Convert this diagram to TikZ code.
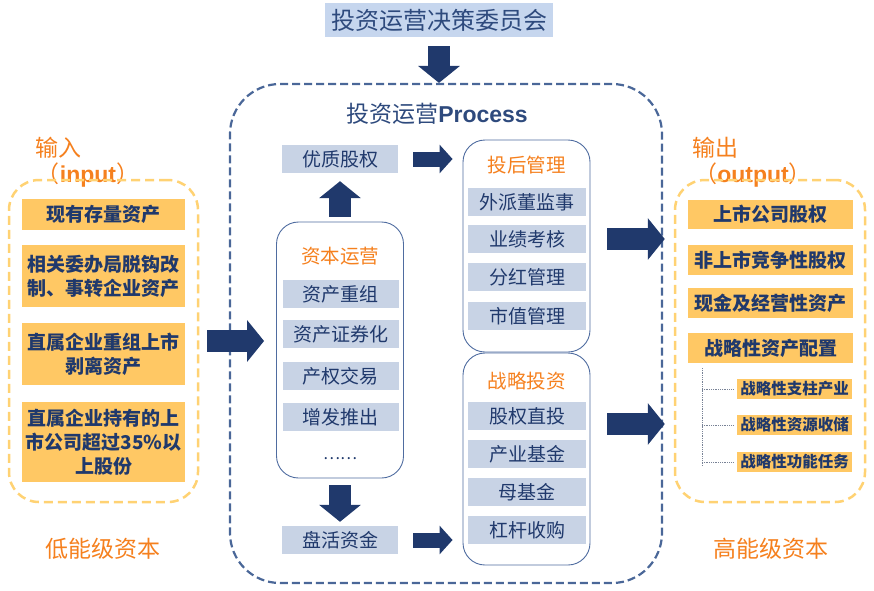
\documentclass[tikz,border=0pt]{standalone}
\usepackage{fontspec}
\setmainfont{Noto Sans CJK SC}
\newfontfamily\latn{Liberation Sans}
\usetikzlibrary{arrows.meta,positioning}

\definecolor{navy}{RGB}{32,57,108}
\definecolor{headtext}{RGB}{46,74,125}
\definecolor{procline}{RGB}{74,103,152}
\definecolor{grpline}{RGB}{79,108,160}
\definecolor{itemblue}{RGB}{200,211,229}
\definecolor{titleblue}{RGB}{198,214,238}
\definecolor{orangetext}{RGB}{245,128,30}
\definecolor{itemorange}{RGB}{255,200,100}
\definecolor{sideline}{RGB}{255,210,115}
\definecolor{treegray}{RGB}{120,130,150}

\tikzset{
  bluebox/.style={fill=itemblue, text=navy, minimum width=116pt, minimum height=28pt, inner sep=0pt, font=\fontsize{19}{21}\selectfont},
  orangebox/.style={fill=itemorange, text=navy, minimum width=163pt, inner sep=0pt, align=center, font=\bfseries\fontsize{19}{24}\selectfont},
  subbox/.style={fill=itemorange, text=navy, minimum width=115pt, minimum height=20pt, inner sep=0pt, font=\bfseries\fontsize{15.5}{17}\selectfont},
  group/.style={draw=grpline, line width=0.9pt, rounded corners=22pt, minimum width=127pt},
  grouptitle/.style={text=orangetext, font=\fontsize{19.5}{21}\selectfont},
  sidebox/.style={draw=sideline, line width=2.5pt, dash pattern=on 9pt off 5pt, rounded corners=30pt, minimum width=189pt, minimum height=322pt},
  sidelabel/.style={text=orangetext, font=\fontsize{23}{25}\selectfont},
  bigarrow/.style={draw=navy, line width=22pt, -{Triangle[length=17pt,width=41pt]}},
  smallarrow/.style={draw=navy, line width=15pt, -{Triangle[length=13pt,width=28pt]}},
  branch/.style={draw=treegray, line width=0.8pt, densely dotted}
}

\begin{document}
\begin{tikzpicture}[x=1pt,y=-1pt]
  \useasboundingbox (0,0) rectangle (874,590);

  % Committee on top
  \node[fill=titleblue, text=headtext, minimum width=228pt, minimum height=34pt, font=\fontsize{24}{26}\selectfont] (board) at (439,20) {投资运营决策委员会};

  % Process frame
  \node[draw=procline, line width=2.2pt, dash pattern=on 8pt off 4pt, rounded corners=50pt, minimum width=432pt, minimum height=499pt] (proc) at (446,333.5) {};
  \node[text=headtext, font=\fontsize{23}{25}\selectfont] (proctitle) at (437,114) {投资运营{\latn\bfseries Process}};

  % Capital operation column
  \node[bluebox] (youzhi) at (340,159) {优质股权};
  \node[group, minimum height=256pt] (capop) at (340,350) {};
  \node[grouptitle] (capoptitle) at (340,256) {资本运营};
  \node[bluebox] (cap1) at (340.5,294) {资产重组};
  \node[bluebox] (cap2) at (340.5,334) {资产证券化};
  \node[bluebox] (cap3) at (340.5,376) {产权交易};
  \node[bluebox] (cap4) at (340.5,417) {增发推出};
  \node[text=navy, font=\fontsize{16}{18}\selectfont] (cap5) at (340,459) {……};
  \node[bluebox] (panhuo) at (340,540) {盘活资金};

  % Post-investment management
  \node[group, minimum height=212pt] (tougu) at (526.5,246) {};
  \node[grouptitle] (tougutitle) at (526.5,165) {投后管理};
  \node[bluebox, minimum width=118pt] (tg1) at (527,202) {外派董监事};
  \node[bluebox, minimum width=118pt] (tg2) at (527,239) {业绩考核};
  \node[bluebox, minimum width=118pt] (tg3) at (527,277) {分红管理};
  \node[bluebox, minimum width=118pt] (tg4) at (527,316) {市值管理};

  % Strategic investment
  \node[group, minimum height=212pt] (zhanlue) at (526.5,459) {};
  \node[grouptitle] (zhanluetitle) at (526.5,381) {战略投资};
  \node[bluebox, minimum width=118pt] (zl1) at (527,416) {股权直投};
  \node[bluebox, minimum width=118pt] (zl2) at (527,454) {产业基金};
  \node[bluebox, minimum width=118pt] (zl3) at (527,492) {母基金};
  \node[bluebox, minimum width=118pt] (zl4) at (527,530) {杠杆收购};

  % Input side
  \node[sidelabel] (inlabel) at (58,148) {输入};
  \node[sidelabel] (inlabel2) at (88,175) {（{\latn\bfseries input}）};
  \node[sidebox] (input) at (103.5,341) {};
  \node[orangebox, minimum height=31pt] (in1) at (103.5,214.5) {现有存量资产};
  \node[orangebox, minimum height=62pt] (in2) at (103.5,276) {相关委办局脱钩改\\制、事转企业资产};
  \node[orangebox, minimum height=62pt] (in3) at (103.5,354) {直属企业重组上市\\剥离资产};
  \node[orangebox, minimum height=80pt] (in4) at (103.5,442) {直属企业持有的上\\市公司超过35\%以\\上股份};
  \node[sidelabel] (low) at (103,549) {低能级资本};

  % Output side
  \node[sidelabel] (outlabel) at (715,148) {输出};
  \node[sidelabel] (outlabel2) at (753,175) {（{\latn\bfseries output}）};
  \node[sidebox, minimum width=190pt] (output) at (770,341) {};
  \node[orangebox, minimum width=165pt, minimum height=29pt] (out1) at (770.5,214) {上市公司股权};
  \node[orangebox, minimum width=165pt, minimum height=30pt] (out2) at (770.5,260) {非上市竞争性股权};
  \node[orangebox, minimum width=165pt, minimum height=30pt] (out3) at (770.5,303) {现金及经营性资产};
  \node[orangebox, minimum width=165pt, minimum height=30pt] (out4) at (770.5,348) {战略性资产配置};
  \node[subbox] (sub1) at (794.5,389) {战略性支柱产业};
  \node[subbox] (sub2) at (794.5,425) {战略性资源收储};
  \node[subbox] (sub3) at (794.5,462) {战略性功能任务};
  \node[sidelabel] (high) at (771,549) {高能级资本};

  % tree under the last output
  \coordinate (treetop) at (702,368);
  \draw[branch] (treetop) -- (treetop |- 0,466);
  \draw[branch] (treetop |- sub1.west) -- ([xshift=-4pt]sub1.west);
  \draw[branch] (treetop |- sub2.west) -- ([xshift=-4pt]sub2.west);
  \draw[branch] (treetop |- sub3.west) -- ([xshift=-4pt]sub3.west);

  % block arrows
  \draw[bigarrow, shorten <=9pt] (board.south) -- (board.south |- proc.north);
  \draw[bigarrow, shorten <=5pt, shorten >=8pt] (capop.north) -- (youzhi.south);
  \draw[bigarrow, shorten <=7pt, shorten >=4pt] (capop.south) -- (panhuo.north);
  \draw[smallarrow, shorten <=15pt, shorten >=10pt] (youzhi.east) -- (youzhi.east -| tougu.west);
  \draw[smallarrow, shorten <=15pt, shorten >=10pt] (panhuo.east) -- (panhuo.east -| zhanlue.west);
  \draw[bigarrow, shorten <=8pt, shorten >=12pt] (input.east) -- (input.east -| capop.west);
  \draw[bigarrow, shorten <=17pt, shorten >=9pt] ([yshift=7pt]tougu.east) -- ([yshift=7pt]tougu.east -| output.west);
  \draw[bigarrow, shorten <=17pt, shorten >=9pt] ([yshift=35pt]zhanlue.east) -- ([yshift=35pt]zhanlue.east -| output.west);
\end{tikzpicture}
\end{document}
